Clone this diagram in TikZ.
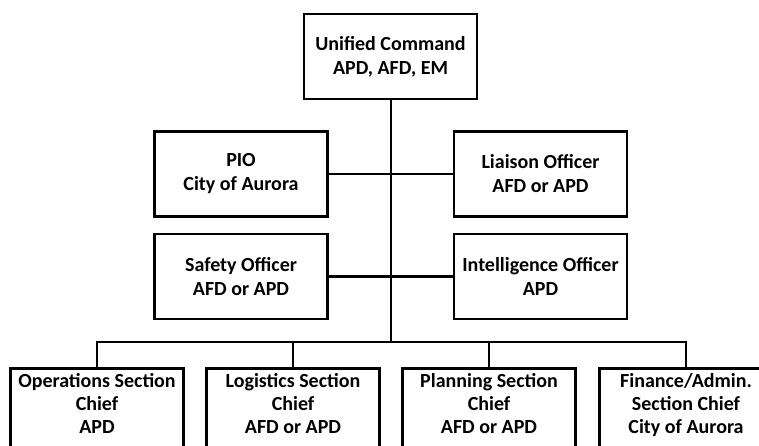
\documentclass[tikz,border=0pt]{standalone}
\usepackage{fontspec}
\setmainfont{Carlito}
\begin{document}
\begin{tikzpicture}[x=1pt,y=-1pt,
  box/.style={draw=black,line width=2.6pt,fill=white,minimum width=173pt,align=center,
    font=\fontsize{20}{24}\selectfont\bfseries,inner sep=0pt},
  midbox/.style={box,minimum height=85pt},
  lowbox/.style={box,anchor=north,inner ysep=5pt,font=\fontsize{20}{23}\selectfont\bfseries},
  link/.style={draw=black,line width=2.2pt}]
\useasboundingbox (0,0) rectangle (759,446);
\clip (0,0) rectangle (759,446);
\fill[white] (0,0) rectangle (759,446);
\coordinate (bus) at (391,342);
\node[midbox] (uc) at (390.5,56.5) {Unified Command\\APD, AFD, EM};
\node[midbox] (pio) at (241,174) {PIO\\City of Aurora};
\node[midbox] (lia) at (540.5,174) {Liaison Officer\\AFD or APD};
\node[midbox] (saf) at (241,276.5) {Safety Officer\\AFD or APD};
\node[midbox] (int) at (540.5,276.5) {Intelligence Officer\\APD};
\node[lowbox] (ops) at (97,367) {Operations Section\\Chief\\APD\\\rule{0pt}{40pt}};
\node[lowbox] (log) at (293,367) {Logistics Section\\Chief\\AFD or APD\\\rule{0pt}{40pt}};
\node[lowbox] (pla) at (489,367) {Planning Section\\Chief\\AFD or APD\\\rule{0pt}{40pt}};
\node[lowbox] (fin) at (686,367) {Finance/Admin.\\Section Chief\\City of Aurora\\\rule{0pt}{40pt}};
\draw[link] (uc.south -| bus) -- (bus);
\draw[link] (pio.east) -- (lia.west);
\draw[link] (saf.east) -- (int.west);
\draw[link] (ops.north) |- (bus) -| (fin.north);
\draw[link] (log.north) -- (log.north |- bus);
\draw[link] (pla.north) -- (pla.north |- bus);
\end{tikzpicture}
\end{document}
